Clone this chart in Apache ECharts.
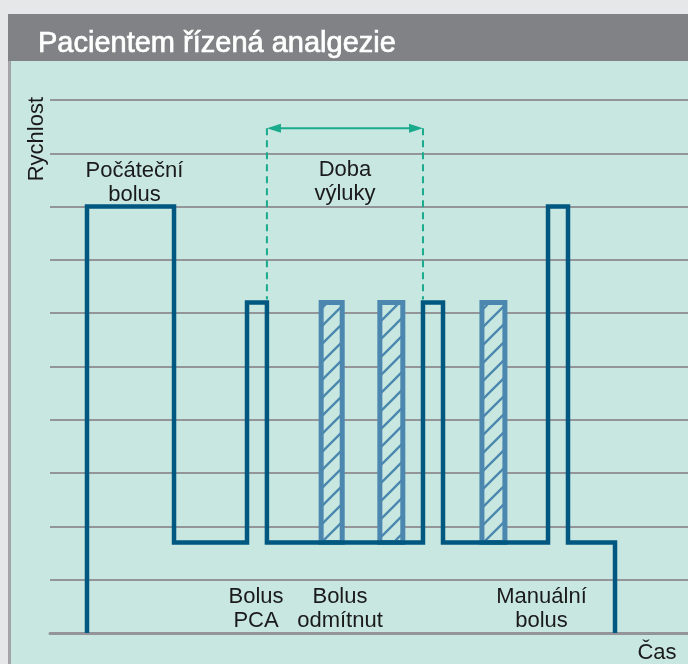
<!DOCTYPE html>
<html>
<head>
<meta charset="utf-8">
<title>Pacientem řízená analgezie</title>
<script src="https://cdn.jsdelivr.net/npm/echarts@6/dist/echarts.min.js"></script>
<style>
  html, body { margin: 0; padding: 0; background: #e6e7e8; }
  #chart { width: 688px; height: 664px; }
</style>
</head>
<body>
<div id="chart"></div>
<script>
// infusion rate: times where the rate changes and the rate right after
const stepTimes = [5.8, 19.44, 30.88, 34.0, 58.46, 61.6, 78.06, 81.19, 88.56];
const stepRates = [8, 1.7, 6.2, 1.7, 6.2, 1.7, 8, 1.7, 0];

// rejected bolus requests (hatched)
const rejectedStart = [42.5, 51.7, 67.7];
const rejectedEnd = [45.8, 55.3, 71.3];
const basalRate = 1.7;
const bolusRate = 6.2;

// lockout interval
const lockoutStart = 34.0;
const lockoutEnd = 58.46;
const lockoutArrowAt = 9.47;

// annotations
const noteTexts = ["Počáteční\nbolus", "Doba\nvýluky", "Bolus\nPCA", "Bolus\nodmítnut", "Manuální\nbolus"];
const noteTimes = [13.24, 46.24, 32.29, 45.45, 77.04];
const noteRates = [8.45, 8.47, 0.46, 0.46, 0.46];

const DARK = "#00577f";
const LIGHT = "#4b87ae";
const GREEN = "#1aaa8c";
const MINT = "#c8e7e0";
const FONT = '"Liberation Sans", Arial, sans-serif';

// corner points of the rate profile
const ratePoints = [];
let prev = 0;
stepTimes.forEach((t, i) => {
  ratePoints.push([t, prev]);
  ratePoints.push([t, stepRates[i]]);
  prev = stepRates[i];
});

// diagonal hatch pattern on the panel colour
const hatch = document.createElement("canvas");
hatch.width = 18;
hatch.height = 18;
const hctx = hatch.getContext("2d");
hctx.fillStyle = MINT;
hctx.fillRect(0, 0, 18, 18);
hctx.strokeStyle = LIGHT;
hctx.lineWidth = 2.3;
hctx.beginPath();
hctx.moveTo(-2, 20); hctx.lineTo(20, -2);
hctx.moveTo(-2, 2); hctx.lineTo(2, -2);
hctx.moveTo(16, 20); hctx.lineTo(20, 16);
hctx.stroke();

const myChart = echarts.init(document.getElementById("chart"));

const option = {
  animation: false,
  backgroundColor: MINT,
  title: {
    text: "Pacientem řízená analgezie",
    left: 33,
    top: 24,
    textStyle: {
      color: "#ffffff",
      fontSize: 29,
      fontWeight: "normal",
      fontFamily: FONT,
      textBorderColor: "#ffffff",
      textBorderWidth: 0.7,
    },
  },
  graphic: {
    z: -10,
    elements: [
      { type: "rect", shape: { x: 0, y: 0, width: 688, height: 14 }, style: { fill: "#e6e7e8" } },
      { type: "rect", shape: { x: 0, y: 0, width: 8, height: 664 }, style: { fill: "#e6e7e8" } },
      { type: "rect", shape: { x: 8, y: 14, width: 680, height: 47 }, style: { fill: "#808285" } },
      { type: "rect", shape: { x: 8, y: 61, width: 3, height: 603 }, style: { fill: "#a2a4a7" } },
    ],
  },
  grid: { left: 50, right: 0, top: 100, bottom: 30 },
  xAxis: {
    type: "value",
    min: 0,
    max: 100,
    name: "Čas",
    nameLocation: "end",
    nameGap: -31,
    nameTextStyle: { color: "#1a1a1a", fontSize: 22, fontFamily: FONT, align: "center", verticalAlign: "top", padding: [9, 0, 0, 0] },
    axisLine: { show: true, lineStyle: { color: "#939598", width: 3 } },
    axisTick: { show: false },
    axisLabel: { show: false },
    splitLine: { show: false },
  },
  yAxis: {
    type: "value",
    min: 0,
    max: 10,
    interval: 1,
    name: "Rychlost",
    nameLocation: "end",
    nameGap: 3,
    nameRotate: 90,
    nameTextStyle: { color: "#1a1a1a", fontSize: 22, fontFamily: FONT, align: "right", verticalAlign: "bottom", padding: [0, 0, 2, 0] },
    axisLine: { show: false },
    axisTick: { show: false },
    axisLabel: { show: false },
    splitLine: { show: true, lineStyle: { color: "#939598", width: 2 } },
  },
  series: [
    {
      name: "odmítnut",
      type: "custom",
      z: 3,
      data: rejectedStart.map((s, i) => [s, rejectedEnd[i], basalRate, bolusRate]),
      encode: { x: [0, 1], y: [2, 3] },
      renderItem: (params, api) => {
        const p0 = api.coord([api.value(0), api.value(3)]);
        const p1 = api.coord([api.value(1), api.value(2)]);
        return {
          type: "rect",
          shape: { x: p0[0], y: p0[1], width: p1[0] - p0[0], height: p1[1] - p0[1] },
          style: { fill: { image: hatch, repeat: "repeat" }, stroke: LIGHT, lineWidth: 5 },
        };
      },
    },
    {
      name: "Rychlost",
      type: "line",
      z: 4,
      data: ratePoints,
      showSymbol: false,
      symbol: "none",
      lineStyle: { color: DARK, width: 4.5, join: "miter", cap: "butt" },
    },
    {
      name: "výluka",
      type: "custom",
      z: 5,
      clip: false,
      data: [[lockoutStart, lockoutEnd, lockoutArrowAt, bolusRate]],
      encode: { x: [0, 1], y: [2, 3] },
      renderItem: (params, api) => {
        const a = api.coord([api.value(0), api.value(2)]);
        const b = api.coord([api.value(1), api.value(2)]);
        const bottom = api.coord([api.value(0), api.value(3)])[1] - 3;
        const dash = { stroke: GREEN, lineWidth: 2, lineDash: [7, 5] };
        const head = 14, half = 4.5;
        return {
          type: "group",
          children: [
            { type: "line", shape: { x1: a[0], y1: a[1], x2: a[0], y2: bottom }, style: dash },
            { type: "line", shape: { x1: b[0], y1: b[1], x2: b[0], y2: bottom }, style: dash },
            { type: "line", shape: { x1: a[0] + head - 2, y1: a[1], x2: b[0] - head + 2, y2: b[1] }, style: { stroke: GREEN, lineWidth: 2 } },
            { type: "polygon", shape: { points: [[a[0], a[1]], [a[0] + head, a[1] - half], [a[0] + head, a[1] + half]] }, style: { fill: GREEN } },
            { type: "polygon", shape: { points: [[b[0], b[1]], [b[0] - head, b[1] - half], [b[0] - head, b[1] + half]] }, style: { fill: GREEN } },
          ],
        };
      },
    },
    {
      name: "popisky",
      type: "custom",
      z: 6,
      clip: false,
      data: noteTimes.map((t, i) => [t, noteRates[i], i]),
      renderItem: (params, api) => {
        const p = api.coord([api.value(0), api.value(1)]);
        return {
          type: "text",
          x: p[0],
          y: p[1],
          style: {
            text: noteTexts[api.value(2)],
            fill: "#1a1a1a",
            fontSize: 22,
            fontFamily: FONT,
            align: "center",
            verticalAlign: "middle",
            lineHeight: 24,
          },
        };
      },
    },
  ],
};

myChart.setOption(option);
</script>
</body>
</html>
